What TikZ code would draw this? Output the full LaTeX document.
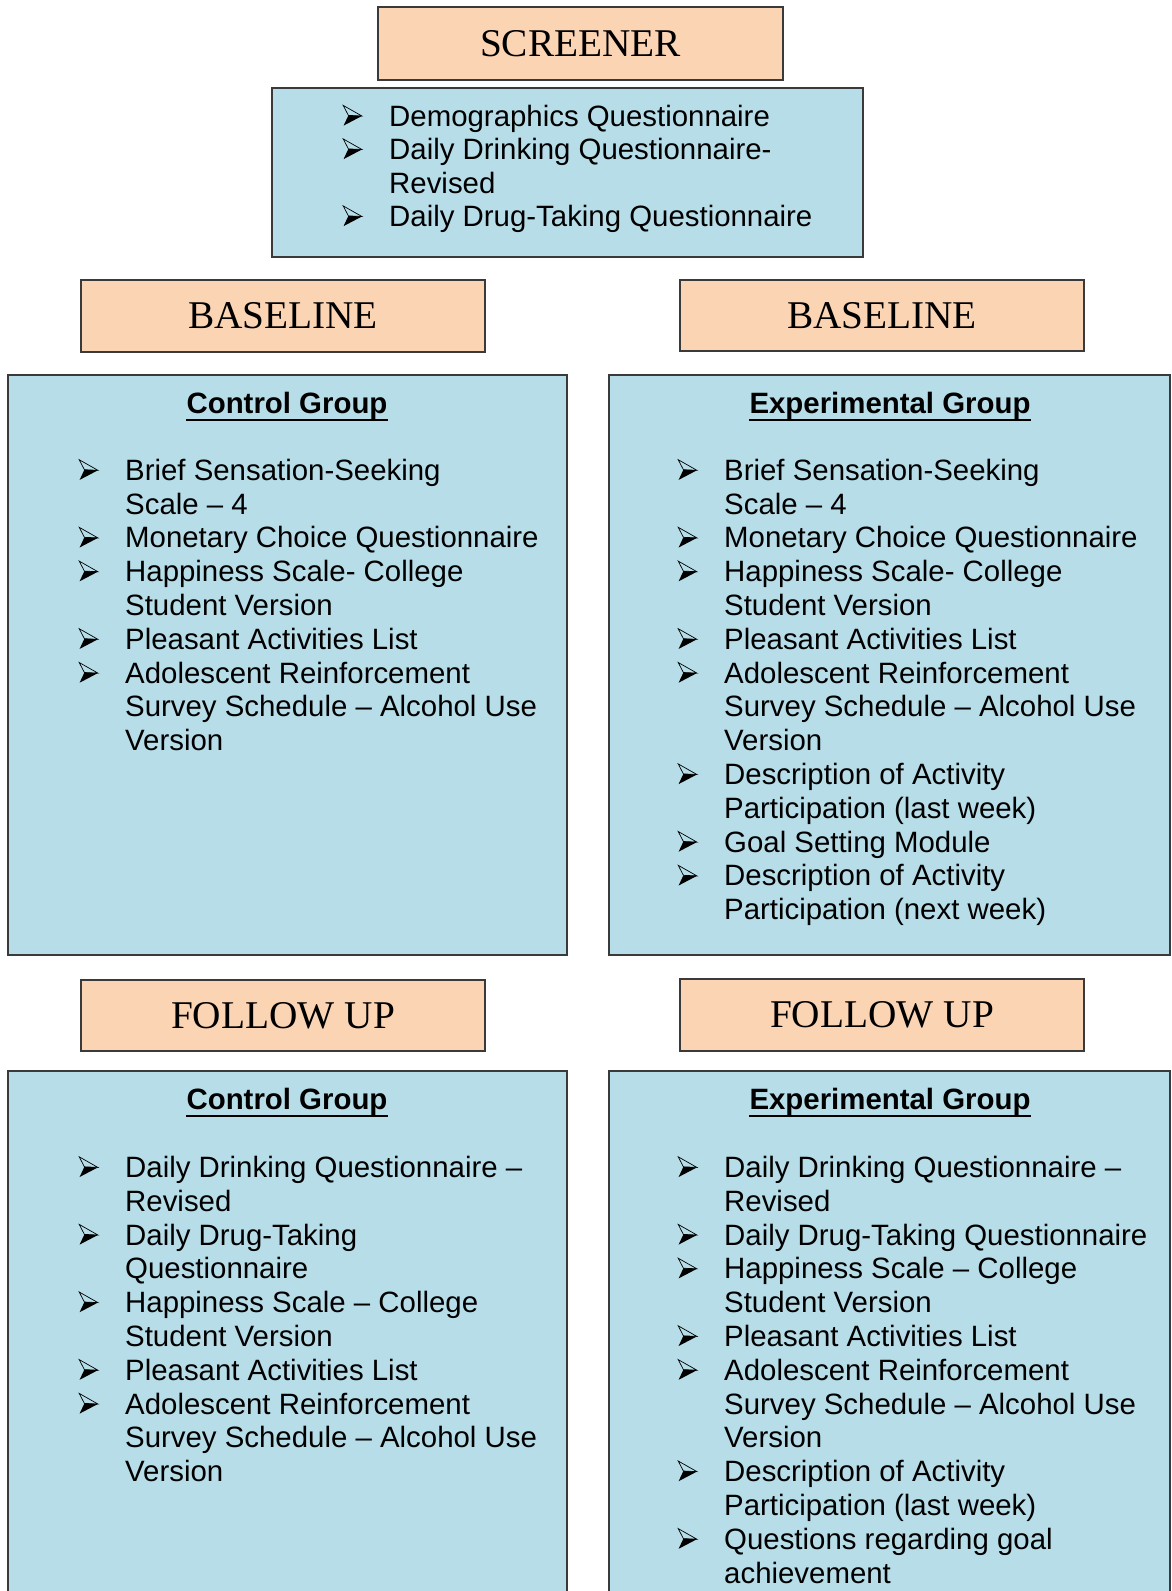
\documentclass[tikz,border=0pt]{standalone}
\usepackage{fontspec}
\setmainfont{Liberation Sans}
\newfontfamily\headfont{Liberation Serif}
\definecolor{peach}{HTML}{FBD4B4}
\definecolor{aqua}{HTML}{B6DDE8}
\definecolor{edge}{HTML}{3A3A3A}
\newcommand{\arrowbul}{\tikz[x=1pt,y=1pt,baseline=0pt]{%
  \useasboundingbox (0,0) rectangle (19,21);
  \fill[black] (5.2,10.6) -- (18.7,10) -- (0.4,0.4) -- cycle;
  \draw[black, line width=0.7pt, line join=miter] (0,20.6) -- (18.7,10) -- (5.2,10.6) -- cycle;}}
\newcommand{\bl}{\llap{\makebox[46pt][l]{\arrowbul}}}
\begin{document}
\begin{tikzpicture}[x=1pt,y=-1pt,
  hdr/.style={draw=edge, line width=1.2pt, fill=peach, inner sep=0pt,
    font=\headfont\fontsize{39.3}{39.3}\selectfont},
  panel/.style={draw=edge, line width=1.2pt, fill=aqua, inner sep=0pt},
  lst/.style={inner sep=0pt, anchor=base west, font=\fontsize{29.4}{33.8}\selectfont},
  ttl/.style={inner sep=0pt, anchor=base, font=\bfseries\fontsize{29.4}{33.8}\selectfont},
  uline/.style={line width=2.2pt}]
\useasboundingbox (0,0) rectangle (1171,1591);
\clip (0,0) rectangle (1171,1591);
\fill[white] (0,0) rectangle (1171,1591);

% screener
\node[hdr, minimum width=405pt, minimum height=73pt] (scr) at (580.5,43.5) {SCREENER};
\node[panel, minimum width=591pt, minimum height=169pt] (scrp) at (567.5,172.5) {};
\node[lst, font=\fontsize{29.4}{33.5}\selectfont] (scrl) at (389,126) {\begin{tabular}[t]{@{}l@{}}
\bl Demographics Questionnaire\\
\bl Daily Drinking Questionnaire-\\
Revised\\
\bl Daily Drug-Taking Questionnaire
\end{tabular}};

% baseline headers
\node[hdr, minimum width=404pt, minimum height=72pt] (bl1) at (283,316) {BASELINE};
\node[hdr, minimum width=404pt, minimum height=71pt] (bl2) at (882,315.5) {BASELINE};

% baseline panels
\node[panel, minimum width=559pt, minimum height=580pt] (cbp) at (287.5,665) {};
\node[panel, minimum width=561pt, minimum height=580pt] (ebp) at (889.5,665) {};

\node[ttl] (cbt) at (287,413.5) {Control Group};
\node[ttl] (ebt) at (890,413.5) {Experimental Group};
\draw[uline] ([yshift=-6.5pt]cbt.base west) -- ([yshift=-6.5pt]cbt.base east);
\draw[uline] ([yshift=-6.5pt]ebt.base west) -- ([yshift=-6.5pt]ebt.base east);

\node[lst] (cbl) at (125,480.3) {\begin{tabular}[t]{@{}l@{}}
\bl Brief Sensation-Seeking\\
Scale – 4\\
\bl Monetary Choice Questionnaire\\
\bl Happiness Scale- College\\
Student Version\\
\bl Pleasant Activities List\\
\bl Adolescent Reinforcement\\
Survey Schedule – Alcohol Use\\
Version
\end{tabular}};

\node[lst] (ebl) at (724,480.3) {\begin{tabular}[t]{@{}l@{}}
\bl Brief Sensation-Seeking\\
Scale – 4\\
\bl Monetary Choice Questionnaire\\
\bl Happiness Scale- College\\
Student Version\\
\bl Pleasant Activities List\\
\bl Adolescent Reinforcement\\
Survey Schedule – Alcohol Use\\
Version\\
\bl Description of Activity\\
Participation (last week)\\
\bl Goal Setting Module\\
\bl Description of Activity\\
Participation (next week)
\end{tabular}};

% follow up headers
\node[hdr, minimum width=404pt, minimum height=71pt] (fu1) at (283,1015.5) {FOLLOW UP};
\node[hdr, minimum width=404pt, minimum height=72pt] (fu2) at (882,1015) {FOLLOW UP};

% follow up panels
\node[panel, minimum width=559pt, minimum height=569pt] (cfp) at (287.5,1355.5) {};
\node[panel, minimum width=561pt, minimum height=569pt] (efp) at (889.5,1355.5) {};

\node[ttl] (cft) at (287,1109.5) {Control Group};
\node[ttl] (eft) at (890,1109.5) {Experimental Group};
\draw[uline] ([yshift=-6.5pt]cft.base west) -- ([yshift=-6.5pt]cft.base east);
\draw[uline] ([yshift=-6.5pt]eft.base west) -- ([yshift=-6.5pt]eft.base east);

\node[lst] (cfl) at (125,1177.4) {\begin{tabular}[t]{@{}l@{}}
\bl Daily Drinking Questionnaire –\\
Revised\\
\bl Daily Drug-Taking\\
Questionnaire\\
\bl Happiness Scale – College\\
Student Version\\
\bl Pleasant Activities List\\
\bl Adolescent Reinforcement\\
Survey Schedule – Alcohol Use\\
Version
\end{tabular}};

\node[lst] (efl) at (724,1177.4) {\begin{tabular}[t]{@{}l@{}}
\bl Daily Drinking Questionnaire –\\
Revised\\
\bl Daily Drug-Taking Questionnaire\\
\bl Happiness Scale – College\\
Student Version\\
\bl Pleasant Activities List\\
\bl Adolescent Reinforcement\\
Survey Schedule – Alcohol Use\\
Version\\
\bl Description of Activity\\
Participation (last week)\\
\bl Questions regarding goal\\
achievement
\end{tabular}};
\end{tikzpicture}
\end{document}
